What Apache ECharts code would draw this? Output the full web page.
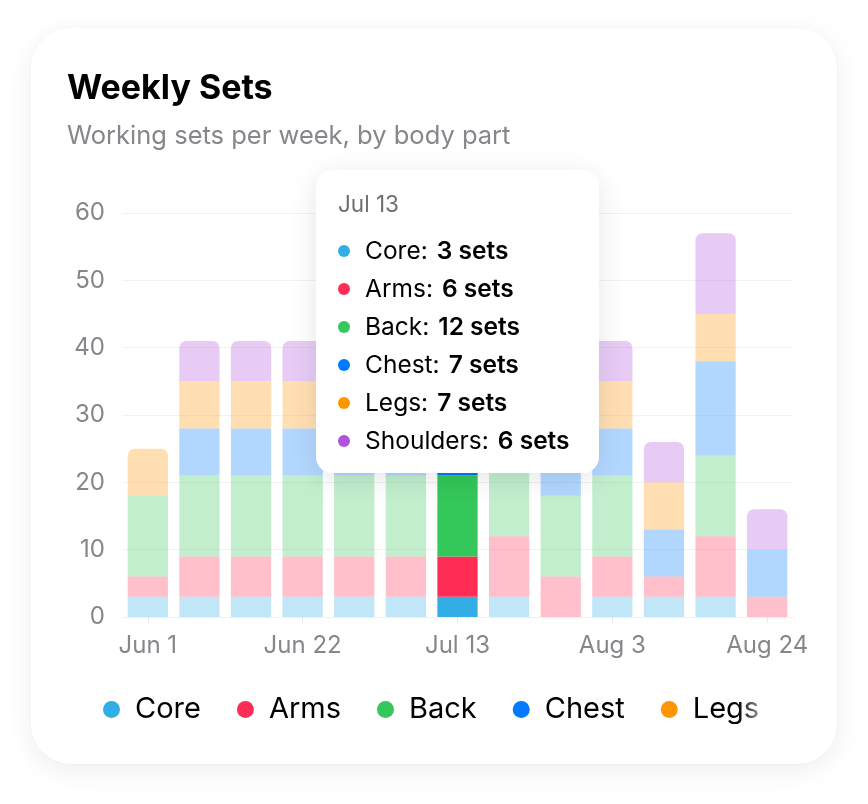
<!DOCTYPE html>
<html>
<head>
<meta charset="utf-8">
<script src="https://cdn.jsdelivr.net/npm/echarts@6/dist/echarts.min.js"></script>
<style>
  html, body { margin: 0; padding: 0; background: #ffffff; }
  #card { position: absolute; left: 31px; top: 28px; width: 806px; height: 736px; border-radius: 40px; background: #fff; box-shadow: 0 6px 28px rgba(0,0,0,0.07), 0 0 2px rgba(0,0,0,0.03); }
  #chart { position: absolute; left: 0; top: 0; width: 868px; height: 804px; }
  #fade { position: absolute; left: 738px; top: 690px; width: 30px; height: 40px; background: linear-gradient(to right, rgba(255,255,255,0), rgba(255,255,255,0.8)); pointer-events: none; z-index: 5; }
</style>
</head>
<body>
<div id="card"></div>
<div id="chart"></div>
<div id="fade"></div>
<script>
const categories = ['Jun 1','Jun 8','Jun 15','Jun 22','Jun 29','Jul 6','Jul 13','Jul 20','Jul 27','Aug 3','Aug 10','Aug 17','Aug 24'];
const seriesNames = ['Core','Arms','Back','Chest','Legs','Shoulders'];
const core      = [3, 3, 3, 3, 3, 3, 3, 3, 0, 3, 3, 3, 0];
const arms      = [3, 6, 6, 6, 6, 6, 6, 9, 6, 6, 3, 9, 3];
const back      = [12,12,12,12,12,12,12,12,12,12, 0,12, 0];
const chest     = [0, 7, 7, 7, 7, 7, 7, 7, 7, 7, 7,14, 7];
const legs      = [7, 7, 7, 7, 7, 7, 7, 7, 7, 7, 7, 7, 0];
const shoulders = [0, 6, 6, 6, 6, 6, 6, 6, 6, 6, 6,12, 6];
const yTicks = [0, 10, 20, 30, 40, 50, 60];
const highlightIndex = 6;

const values = [core, arms, back, chest, legs, shoulders];
const colors = ['#32ADE6','#FF2D55','#34C759','#007AFF','#FF9500','#AF52DE'];

// topmost non-zero segment per category gets rounded top corners
const topSeries = categories.map((_, i) => {
  let t = -1;
  values.forEach((arr, s) => { if (arr[i] > 0) t = s; });
  return t;
});

const series = seriesNames.map((name, s) => ({
  name: name,
  type: 'bar',
  stack: 'total',
  barWidth: '78%',
  color: colors[s],
  emphasis: { disabled: true },
  data: values[s].map((v, i) => ({
    value: v,
    itemStyle: {
      color: colors[s],
      opacity: i === highlightIndex ? 1 : 0.3,
      borderRadius: topSeries[i] === s ? [7, 7, 0, 0] : 0
    }
  }))
}));

const chart = echarts.init(document.getElementById('chart'), null, { renderer: 'canvas' });
const font = 'Inter, "Noto Sans", "DejaVu Sans", sans-serif';

chart.setOption({
  backgroundColor: 'transparent',
  animation: false,
  textStyle: { fontFamily: font },
  title: {
    text: 'Weekly Sets',
    subtext: 'Working sets per week, by body part',
    left: 62, top: 67,
    itemGap: 17,
    textStyle: { fontFamily: font, fontSize: 34, fontWeight: 'bold', color: '#000' },
    subtextStyle: { fontFamily: font, fontSize: 25.5, color: '#86868b' }
  },
  legend: {
    type: 'scroll',
    left: 98, top: 690, width: 668,
    icon: 'circle',
    itemWidth: 17, itemHeight: 17,
    itemGap: 36,
    textStyle: { fontFamily: font, fontSize: 29, color: '#000', padding: [0, 0, 0, 10] },
    pageIconColor: 'rgba(0,0,0,0)',
    pageIconInactiveColor: 'rgba(0,0,0,0)',
    pageIconSize: 1,
    pageButtonItemGap: 0,
    pageButtonGap: 0,
    pageFormatter: '',
    pageTextStyle: { color: 'rgba(0,0,0,0)', fontSize: 1 },
    data: seriesNames
  },
  grid: { left: 122, right: 75, top: 213, bottom: 187 },
  tooltip: {
    trigger: 'axis',
    axisPointer: { type: 'none' },
    alwaysShowContent: true,
    transitionDuration: 0,
    position: [316, 170],
    padding: 0,
    borderWidth: 0,
    backgroundColor: '#fff',
    extraCssText: 'border-radius:16px; box-shadow:0 6px 28px rgba(0,0,0,0.10);',
    formatter: function (params) {
      let html = '<div style="box-sizing:border-box;width:283px;height:303px;padding:20px 0 0 22px;font-family:' + font.replace(/"/g, "'") + ';">';
      html += '<div style="font-size:22.5px;color:#6e6e73;line-height:28px;margin-bottom:13px;">' + params[0].axisValue + '</div>';
      params.forEach(p => {
        html += '<div style="font-size:24.5px;line-height:38px;color:#000;white-space:nowrap;">' +
          '<span style="display:inline-block;width:12px;height:12px;border-radius:6px;background:' + colors[p.seriesIndex] + ';margin-right:15px;vertical-align:2px;"></span>' +
          p.seriesName + ':<span style="display:inline-block;width:9px;"></span><b style="font-weight:600;">' + p.value + ' sets</b></div>';
      });
      html += '</div>';
      return html;
    }
  },
  xAxis: {
    type: 'category',
    data: categories,
    axisLine: { show: true, lineStyle: { color: '#f0f0f2' } },
    axisTick: { show: true, alignWithLabel: true, interval: 2, length: 6, lineStyle: { color: '#e8e8ea' } },
    axisLabel: { interval: 2, fontSize: 24, color: '#86868b', margin: 17, fontFamily: font }
  },
  yAxis: {
    type: 'value',
    min: yTicks[0], max: yTicks[yTicks.length - 1], interval: 10,
    axisLine: { show: false },
    axisTick: { show: false },
    splitLine: { lineStyle: { color: '#f2f2f4' } },
    axisLabel: { fontSize: 24, color: '#86868b', margin: 17, fontFamily: font }
  },
  series: series
});

function showTip() {
  chart.dispatchAction({ type: 'showTip', seriesIndex: 0, dataIndex: highlightIndex });
}
showTip();
setTimeout(showTip, 50);
</script>
</body>
</html>
